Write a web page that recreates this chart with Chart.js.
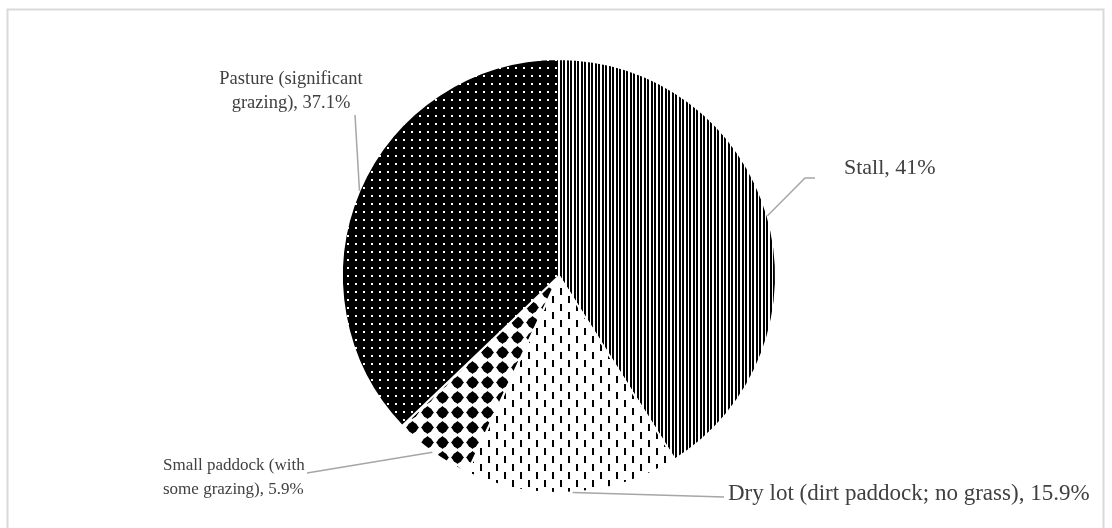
<!DOCTYPE html>
<html>
<head>
<meta charset="utf-8">
<script src="https://cdn.jsdelivr.net/npm/chart.js@4/dist/chart.umd.min.js"></script>
<style>
  html, body { margin: 0; padding: 0; background: #fff; overflow: hidden; }
  canvas { display: block; }
</style>
</head>
<body>
<canvas id="c" width="1112" height="528"></canvas>
<script>
// Where horses are kept: share of respondents by housing type
const categories = ['Stall', 'Dry lot (dirt paddock; no grass)', 'Small paddock (with some grazing)', 'Pasture (significant grazing)'];
const shares = [41, 15.9, 5.9, 37.1];

// Label placement: leader-line bend points, text anchor, wrap width, font size
const labelLayout = [
  { path: [[805, 178], [815, 178]], x: 844, y: 168, align: 'left', wrap: 400, size: 22 },
  { path: [[724, 497]], x: 728, y: 494, align: 'left', wrap: 600, size: 23 },
  { path: [[307, 473]], x: 163, y: 466, align: 'left', wrap: 150, size: 17 },
  { path: [[355, 115]], x: 291, y: 79, align: 'center', wrap: 160, size: 18.5 }
];

const FONT_FAMILY = '"Liberation Serif", "Times New Roman", serif';
const TEXT_COLOR = '#404040';
const LINE_COLOR = '#a6a6a6';

const canvas = document.getElementById('c');
const ctx = canvas.getContext('2d');

function tile(w, h, bg, draw) {
  const t = document.createElement('canvas');
  t.width = w; t.height = h;
  const g = t.getContext('2d');
  g.fillStyle = bg; g.fillRect(0, 0, w, h);
  g.fillStyle = '#000';
  draw(g);
  return ctx.createPattern(t, 'repeat');
}

// vertical stripes
const stripePattern = tile(7, 4, '#fff', g => {
  g.fillRect(0, 0, 2, 4);
  g.fillRect(3, 0, 2, 4);
});
// staggered short dashes
const dashPattern = tile(16, 16, '#fff', g => {
  g.fillRect(0, 0, 2, 7);
  g.fillRect(8, 8, 2, 7);
});
// grid of spiked dots
const dotPattern = tile(15, 15, '#fff', g => {
  const cx = 7.5, cy = 7.5;
  g.beginPath(); g.arc(cx, cy, 5.2, 0, Math.PI * 2); g.fill();
  g.beginPath();
  g.moveTo(cx, cy - 6.5); g.lineTo(cx + 6.5, cy); g.lineTo(cx, cy + 6.5); g.lineTo(cx - 6.5, cy);
  g.closePath(); g.fill();
});
// white pin dots on black
const pinPattern = tile(8, 8, '#000', g => {
  g.fillStyle = '#fff';
  g.fillRect(3, 3, 2, 2);
});

function wrapText(c, text, maxW) {
  const words = text.split(' ');
  const lines = [];
  let cur = '';
  for (const w of words) {
    const test = cur ? cur + ' ' + w : w;
    if (c.measureText(test).width > maxW && cur) { lines.push(cur); cur = w; }
    else cur = test;
  }
  if (cur) lines.push(cur);
  return lines;
}

const frameAndLabels = {
  id: 'frameAndLabels',
  beforeDraw(chart) {
    const c = chart.ctx;
    c.save();
    c.strokeStyle = '#d9d9d9';
    c.lineWidth = 2;
    c.strokeRect(7.5, 9.5, 1096, 540);
    c.restore();
  },
  afterDraw(chart) {
    const c = chart.ctx;
    const meta = chart.getDatasetMeta(0);
    c.save();
    meta.data.forEach((arc, i) => {
      const p = arc.getProps(['x', 'y', 'startAngle', 'endAngle', 'outerRadius'], true);
      const mid = (p.startAngle + p.endAngle) / 2;
      const sx = p.x + Math.cos(mid) * p.outerRadius;
      const sy = p.y + Math.sin(mid) * p.outerRadius;
      const lay = labelLayout[i];
      c.strokeStyle = LINE_COLOR;
      c.lineWidth = 1.5;
      c.beginPath();
      c.moveTo(sx, sy);
      lay.path.forEach(pt => c.lineTo(pt[0], pt[1]));
      c.stroke();

      c.font = lay.size + 'px ' + FONT_FAMILY;
      const text = chart.data.labels[i] + ', ' + chart.data.datasets[0].data[i] + '%';
      const lines = wrapText(c, text, lay.wrap);
      c.fillStyle = TEXT_COLOR;
      c.textAlign = lay.align;
      c.textBaseline = 'middle';
      lines.forEach((ln, k) => c.fillText(ln, lay.x, lay.y + k * 24));
    });
    c.restore();
  }
};

new Chart(canvas, {
  type: 'pie',
  data: {
    labels: categories,
    datasets: [{
      data: shares,
      backgroundColor: [stripePattern, dashPattern, dotPattern, pinPattern],
      borderColor: '#ffffff',
      borderWidth: 2
    }]
  },
  options: {
    responsive: false,
    animation: false,
    devicePixelRatio: 1,
    layout: { padding: { top: 58, bottom: 34, left: 341, right: 335 } },
    plugins: { legend: { display: false }, tooltip: { enabled: false } }
  },
  plugins: [frameAndLabels]
});
</script>
</body>
</html>
